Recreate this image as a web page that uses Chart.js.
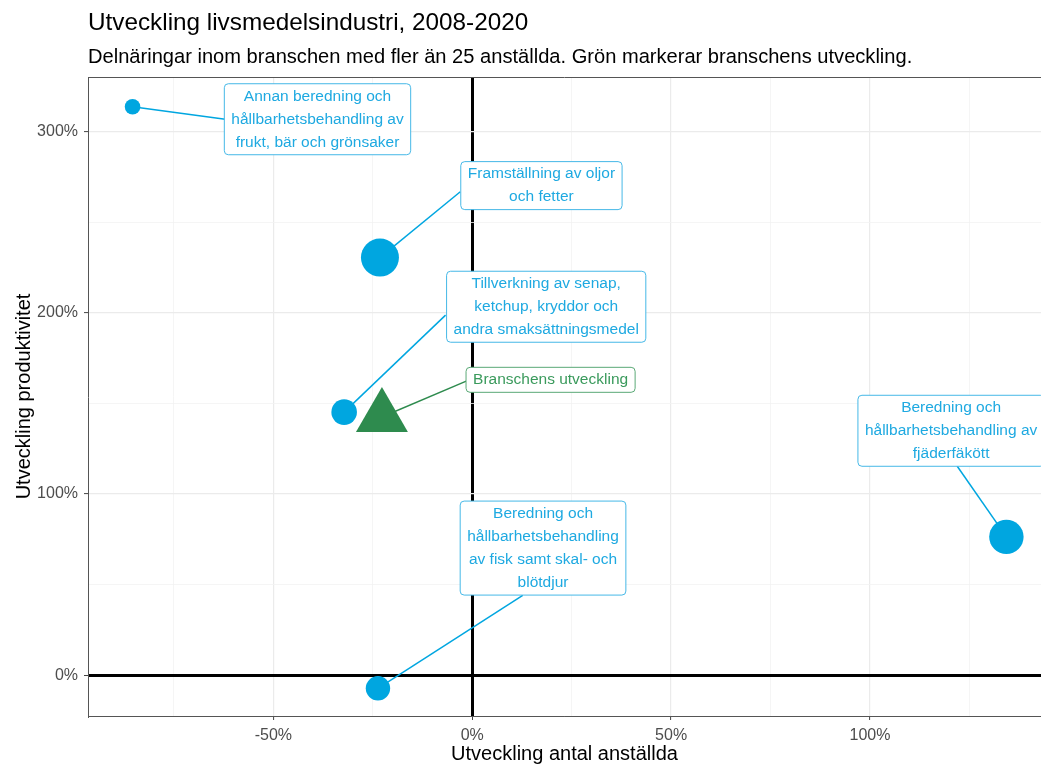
<!DOCTYPE html>
<html>
<head>
<meta charset="utf-8">
<script src="https://cdn.jsdelivr.net/npm/chart.js@4.4.1/dist/chart.umd.min.js"></script>
<style>
  body { margin: 0; background: #fff; }
</style>
</head>
<body>
<canvas id="devChart" width="1041" height="766"></canvas>
<script>
const FONT = '"Liberation Sans", Arial, Helvetica, sans-serif';

// delnäringar (> 25 anställda), förändring 2008-2020 i procent
const branchNames = [
  'Annan beredning och hållbarhetsbehandling av frukt, bär och grönsaker',
  'Framställning av oljor och fetter',
  'Tillverkning av senap, ketchup, kryddor och andra smaksättningsmedel',
  'Beredning och hållbarhetsbehandling av fjäderfäkött',
  'Beredning och hållbarhetsbehandling av fisk samt skal- och blötdjur'
];
const employmentChange = [-85.4, -23.2, -32.2, 134.3, -23.7];
const productivityChange = [313.6, 230.4, 145.2, 76.4, -7.1];

// hela branschen
const sectorName = 'Branschens utveckling';
const sectorEmployment = [-22.7];
const sectorProductivity = [142.5];

// axlar
const xTicks = [-75, -50, -25, 0, 25, 50, 75, 100, 125];
const xTickLabels = [-50, 0, 50, 100];
const yTicks = [0, 50, 100, 150, 200, 250, 300];
const yTickLabels = [0, 100, 200, 300];

// etiketter: radbrytningar, placering (i dataenheter) och var linjen möter rutan
const branchLabelLines = [
  ['Annan beredning och', 'hållbarhetsbehandling av', 'frukt, bär och grönsaker'],
  ['Framställning av oljor', 'och fetter'],
  ['Tillverkning av senap,', 'ketchup, kryddor och', 'andra smaksättningsmedel'],
  ['Beredning och', 'hållbarhetsbehandling av', 'fjäderfäkött'],
  ['Beredning och', 'hållbarhetsbehandling', 'av fisk samt skal- och', 'blötdjur']
];
const labelBoxAt = [[-38.9, 306.7], [17.4, 270.1], [18.6, 203.3], [120.4, 134.9], [17.8, 70.2]];
const leaderEndAt = [[-62.1, 306.7], [-3.0, 266.7], [-6.7, 198.7], [121.9, 115.5], [12.7, 44.1]];
const sectorBoxAt = [19.7, 163.0];
const sectorLeaderEnd = [-1.5, 162.3];

const markerRadius = [7.8, 19, 12.8, 17.2, 12.2];
const sectorRadius = 30;

const BLUE = '#00a6e0';
const BLUE_TEXT = '#1ea9e1';
const BLUE_EDGE = '#45b8e7';
const GREEN = '#2e8b4e';
const GREEN_TEXT = '#3a9a5c';
const GREEN_EDGE = '#5aa976';

const labels = branchLabelLines.map((lines, i) => ({
  lines, box: labelBoxAt[i], end: leaderEndAt[i],
  point: [employmentChange[i], productivityChange[i]],
  line: BLUE, text: BLUE_TEXT, edge: BLUE_EDGE
}));
labels.push({
  lines: [sectorName], box: sectorBoxAt, end: sectorLeaderEnd,
  point: [sectorEmployment[0], sectorProductivity[0]],
  line: GREEN, text: GREEN_TEXT, edge: GREEN_EDGE
});

const LABEL_FONT = '15.5px ' + FONT;
const LINE_H = 23;

function roundRect(ctx, x, y, w, h, r) {
  ctx.beginPath();
  ctx.moveTo(x + r, y);
  ctx.arcTo(x + w, y, x + w, y + h, r);
  ctx.arcTo(x + w, y + h, x, y + h, r);
  ctx.arcTo(x, y + h, x, y, r);
  ctx.arcTo(x, y, x + w, y, r);
  ctx.closePath();
}

const repelLabels = {
  id: 'repelLabels',
  beforeDatasetsDraw(chart) {
    const { ctx, scales: { x, y } } = chart;
    ctx.save();
    ctx.lineWidth = 1.5;
    labels.forEach(l => {
      ctx.strokeStyle = l.line;
      ctx.beginPath();
      ctx.moveTo(x.getPixelForValue(l.point[0]), y.getPixelForValue(l.point[1]));
      ctx.lineTo(x.getPixelForValue(l.end[0]), y.getPixelForValue(l.end[1]));
      ctx.stroke();
    });
    ctx.restore();
  },
  afterDatasetsDraw(chart) {
    const { ctx, scales: { x, y } } = chart;
    ctx.save();
    ctx.font = LABEL_FONT;
    ctx.textAlign = 'center';
    ctx.textBaseline = 'middle';
    labels.forEach(l => {
      const cx = x.getPixelForValue(l.box[0]);
      const cy = y.getPixelForValue(l.box[1]);
      const w = Math.max(...l.lines.map(t => ctx.measureText(t).width)) + 14;
      const h = l.lines.length * LINE_H + 2;
      const left = cx - w / 2, top = cy - h / 2;
      roundRect(ctx, left, top, w, h, 4);
      ctx.fillStyle = '#fff';
      ctx.fill();
      ctx.lineWidth = 1;
      ctx.strokeStyle = l.edge;
      ctx.stroke();
      ctx.fillStyle = l.text;
      l.lines.forEach((t, i) => ctx.fillText(t, cx, top + 1 + LINE_H / 2 + i * LINE_H));
    });
    ctx.restore();
  }
};

// panelram och rubriker
const frame = {
  id: 'frame',
  beforeDatasetsDraw(chart) {
    const { ctx, chartArea: a } = chart;
    ctx.save();
    ctx.strokeStyle = '#555';
    ctx.lineWidth = 1;
    ctx.beginPath();
    ctx.moveTo(a.left, a.top + 0.5);
    ctx.lineTo(a.right, a.top + 0.5);
    ctx.stroke();
    ctx.restore();
  },
  afterDraw(chart) {
    const { ctx, chartArea: a } = chart;
    ctx.save();
    ctx.fillStyle = '#000';
    ctx.textAlign = 'left';
    ctx.textBaseline = 'middle';
    ctx.font = '24.3px ' + FONT;
    ctx.fillText('Utveckling livsmedelsindustri, 2008-2020', a.left, 23);
    ctx.font = '20.1px ' + FONT;
    ctx.fillText('Delnäringar inom branschen med fler än 25 anställda. Grön markerar branschens utveckling.', a.left, 57);
    ctx.restore();
  }
};

const gridColor = (ctx, major) => {
  const v = ctx.tick && ctx.tick.value;
  if (v === 0) return '#000';
  return major.includes(v) ? '#ebebeb' : '#f3f3f3';
};
const gridWidth = (ctx, major) => {
  const v = ctx.tick && ctx.tick.value;
  if (v === 0) return 3;
  return major.includes(v) ? 1.2 : 0.8;
};
const tickMarkColor = (ctx, major) =>
  major.includes(ctx.tick && ctx.tick.value) ? '#444' : 'rgba(0,0,0,0)';

new Chart(document.getElementById('devChart').getContext('2d'), {
  type: 'scatter',
  data: {
    datasets: [{
      label: 'Delnäringar',
      data: employmentChange.map((v, i) => ({ x: v, y: productivityChange[i] })),
      backgroundColor: BLUE,
      borderWidth: 0,
      pointStyle: 'circle',
      pointRadius: markerRadius,
      pointHoverRadius: markerRadius
    }, {
      label: sectorName,
      data: sectorEmployment.map((v, i) => ({ x: v, y: sectorProductivity[i] })),
      backgroundColor: GREEN,
      borderWidth: 0,
      pointStyle: 'triangle',
      pointRadius: sectorRadius,
      pointHoverRadius: sectorRadius
    }]
  },
  options: {
    responsive: false,
    animation: false,
    events: [],
    layout: { autoPadding: false, padding: { top: 77, left: 0, right: 0, bottom: 0 } },
    plugins: {
      legend: { display: false },
      tooltip: { enabled: false }
    },
    scales: {
      x: {
        type: 'linear',
        min: -96.6,
        max: 143,
        afterBuildTicks: s => { s.ticks = xTicks.map(v => ({ value: v })); },
        afterFit: s => { s.height = 50; },
        grid: {
          color: c => gridColor(c, xTickLabels),
          lineWidth: c => gridWidth(c, xTickLabels),
          tickColor: c => tickMarkColor(c, xTickLabels),
          tickWidth: 1,
          tickLength: 4
        },
        border: { color: '#555', width: 1 },
        ticks: {
          autoSkip: false,
          maxRotation: 0,
          padding: 6,
          color: '#4d4d4d',
          font: { family: FONT, size: 16 },
          callback: v => xTickLabels.includes(v) ? v + '%' : ''
        },
        title: {
          display: true,
          text: 'Utveckling antal anställda',
          color: '#000',
          font: { family: FONT, size: 20 },
          padding: { top: 0, bottom: 0 }
        }
      },
      y: {
        type: 'linear',
        min: -22.4,
        max: 330,
        afterBuildTicks: s => { s.ticks = yTicks.map(v => ({ value: v })); },
        afterFit: s => { s.width = 88; },
        grid: {
          color: c => gridColor(c, yTickLabels),
          lineWidth: c => gridWidth(c, yTickLabels),
          tickColor: c => tickMarkColor(c, yTickLabels),
          tickWidth: 1,
          tickLength: 4
        },
        border: { color: '#555', width: 1 },
        ticks: {
          autoSkip: false,
          padding: 6,
          color: '#4d4d4d',
          font: { family: FONT, size: 16 },
          callback: v => yTickLabels.includes(v) ? v + '%' : ''
        },
        title: {
          display: true,
          text: 'Utveckling produktivitet',
          color: '#000',
          font: { family: FONT, size: 20 },
          padding: { top: 12, bottom: 0 }
        }
      }
    }
  },
  plugins: [frame, repelLabels]
});
</script>
</body>
</html>
